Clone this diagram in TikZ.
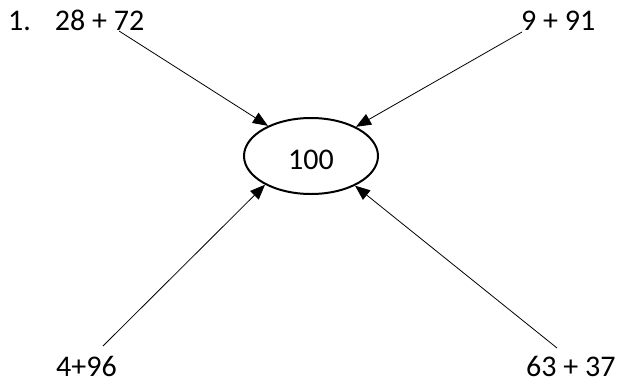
\documentclass[tikz,border=0pt]{standalone}
\usepackage{fontspec}
\setmainfont{Carlito}
\usetikzlibrary{shapes,arrows.meta,positioning}

\begin{document}
\begin{tikzpicture}[x=1pt,y=-1pt,font=\fontsize{30}{36}\selectfont,
  sum/.style={inner sep=0pt, anchor=base west},
  link/.style={-{Triangle[length=15pt,width=12pt]}, line width=0.8pt}]
\useasboundingbox (0,0) rectangle (618,383);
\node (result) [draw, ellipse, line width=2pt, minimum width=134pt, minimum height=76pt, inner sep=0pt, text height=26pt, text depth=0pt] at (311,156) {100};

\node (sumA) [sum] at (8,30) {1.\hspace{24pt}28 + 72};
\node (sumB) [sum] at (521,30) {9 + 91};
\node (sumC) [sum] at (56,376) {4+96};
\node (sumD) [sum] at (526,376) {63 + 37};

\coordinate (startA) at (119,31);
\coordinate (startB) at (522,32);
\coordinate (startC) at (103,346);
\coordinate (startD) at (557,348);

\draw[link] (startA) -- (result.145);
\draw[link] (startB) -- (result.33);
\draw[link] (startC) -- (result.212);
\draw[link] (startD) -- (result.326);
\end{tikzpicture}
\end{document}
